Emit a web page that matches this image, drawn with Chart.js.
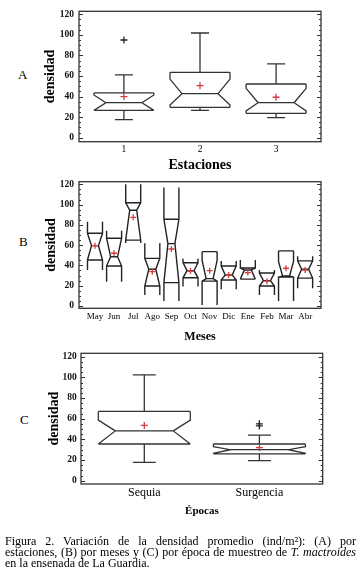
<!DOCTYPE html>
<html lang="es">
<head>
<meta charset="UTF-8">
<title>Densidad promedio de T. mactroides</title>
<script src="https://cdn.jsdelivr.net/npm/chart.js"></script>
<style>
  body { margin: 0; background: #fff; width: 362px; height: 570px; position: relative; overflow: hidden;
         font-family: "Liberation Serif", "Times New Roman", serif; color: #000; }
  canvas { position: absolute; left: 0; }
  .lbl { position: absolute; font-size: 13px; line-height: 15px; }
  .cap { position: absolute; left: 5px; top: 535.5px; width: 351px; font-size: 12px; line-height: 11px; }
  .cap div { text-align: justify; text-align-last: justify; white-space: nowrap; }
  .cap div.last { text-align-last: left; }
</style>
</head>
<body>
<span class="lbl" style="left:18px; top:67px">A</span>
<span class="lbl" style="left:19px; top:234px">B</span>
<span class="lbl" style="left:20px; top:412px">C</span>
<canvas id="chartA" width="362" height="176" style="top:0"></canvas>
<canvas id="chartB" width="362" height="178" style="top:170px"></canvas>
<canvas id="chartC" width="362" height="183" style="top:340px"></canvas>
<div class="cap">
  <div>Figura 2. Variación de la densidad promedio (ind/m²): (A) por</div>
  <div>estaciones, (B) por meses y (C) por época de muestreo de <i>T. mactroides</i></div>
  <div class="last">en la ensenada de La Guardia.</div>
</div>

<script>
// values (densidad, ind/m2)
const yTicks = [0, 20, 40, 60, 80, 100, 120];

// A: por estaciones
const estaciones = ['1', '2', '3'];
const estQ1 = [26.6, 29.5, 23.7];
const estMed = [34, 42.8, 34];
const estQ3 = [43.5, 63.6, 52.2];
const estNotchLo = [26.6, 31.8, 26];
const estNotchHi = [41.5, 57, 48];
const estWhiskLo = [17.5, 26.6, 19.5];
const estWhiskHi = [61, 101.8, 71.7];
const estMean = [40, 50.6, 39.3];
const estOut = [[95], [], []];

// B: por meses
const meses = ['May', 'Jun', 'Jul', 'Ago', 'Sep', 'Oct', 'Nov', 'Dic', 'Ene', 'Feb', 'Mar', 'Abr'];
const mesQ1 = [45.4, 39.4, 65, 19.7, 23, 27.8, 24.5, 25.6, 26.5, 19.7, 28.5, 27.5];
const mesMed = [59.5, 48.6, 94.5, 36.2, 61.5, 34.8, 27, 30.6, 35.5, 25, 29.5, 36.2];
const mesQ3 = [71.7, 66.8, 101.8, 47, 85.5, 42.7, 53.6, 39.4, 37.5, 32.5, 54.4, 44.5];
const mesNotchLo = [35.5, 24, 62, 10.8, 5, 19.3, 1, 16.4, 26.5, 10.8, 5, 17.5];
const mesNotchHi = [83, 74.3, 120, 61.8, 117, 46.5, 45, 44.4, 45.4, 35.5, 44, 49];
const mesMean = [59.5, 52, 87.5, 33.8, 56.2, 34.6, 34.8, 30.6, 32.9, 24.5, 37.2, 35.5];

// C: por época
const epocas = ['Sequia', 'Surgencia'];
const epQ1 = [35.5, 26];
const epMed = [48.2, 30];
const epQ3 = [67, 35.5];
const epNotchLo = [35.5, 26.5];
const epNotchHi = [58.7, 33];
const epWhiskLo = [17.8, 19.4];
const epWhiskHi = [102.4, 44.2];
const epMean = [53.5, 32];
const epOut = [[], [53, 55]];

Chart.defaults.font.family = '"Liberation Serif", "Times New Roman", serif';
Chart.defaults.color = '#111';

// notched box outlines + framed axes with inner ticks
const notchedBoxes = {
  id: 'notchedBoxes',
  beforeDatasetsDraw(chart, args, o) {
    const {ctx, chartArea: a, scales: {x, y}} = chart;
    const py = v => y.getPixelForValue(v);
    ctx.save();
    ctx.beginPath();
    ctx.rect(a.left, a.top, a.width, a.height);
    ctx.clip();
    ctx.strokeStyle = o.color;
    ctx.lineWidth = o.lineWidth;
    o.med.forEach((m, i) => {
      const cx = x.getPixelForValue(i + 1);
      const hw = o.halfWidth, inn = hw - o.indent;
      const q1 = o.q1[i], q3 = o.q3[i], lo = o.nLo[i], hi = o.nHi[i];
      ctx.beginPath();
      [-1, 1].forEach(s => {
        ctx.moveTo(cx + s * hw, py(Math.max(q3, hi)));
        ctx.lineTo(cx + s * hw, py(Math.min(q3, hi)));
        ctx.lineTo(cx + s * inn, py(m));
        ctx.lineTo(cx + s * hw, py(Math.max(q1, lo)));
        ctx.lineTo(cx + s * hw, py(Math.min(q1, lo)));
      });
      ctx.moveTo(cx - hw, py(q3)); ctx.lineTo(cx + hw, py(q3));
      ctx.moveTo(cx - hw, py(q1)); ctx.lineTo(cx + hw, py(q1));
      ctx.moveTo(cx - inn, py(m)); ctx.lineTo(cx + inn, py(m));
      if (o.wLo) {
        ctx.moveTo(cx, py(q3)); ctx.lineTo(cx, py(o.wHi[i]));
        ctx.moveTo(cx - o.cap, py(o.wHi[i])); ctx.lineTo(cx + o.cap, py(o.wHi[i]));
        ctx.moveTo(cx, py(q1)); ctx.lineTo(cx, py(o.wLo[i]));
        ctx.moveTo(cx - o.cap, py(o.wLo[i])); ctx.lineTo(cx + o.cap, py(o.wLo[i]));
      }
      ctx.stroke();
    });
    ctx.restore();
  },
  afterDraw(chart, args, o) {
    const {ctx, chartArea: a, scales: {y}} = chart;
    ctx.save();
    ctx.strokeStyle = '#333';
    ctx.lineWidth = 1.3;
    ctx.strokeRect(a.left, a.top, a.width, a.height);
    ctx.lineWidth = 1;
    ctx.beginPath();
    for (let v = 0; v <= 120; v += 5) {
      const len = v % 20 === 0 ? 4 : 2;
      const p = Math.round(y.getPixelForValue(v)) + 0.5;
      ctx.moveTo(a.left, p); ctx.lineTo(a.left + len, p);
      ctx.moveTo(a.right, p); ctx.lineTo(a.right - len, p);
    }
    ctx.stroke();
    ctx.restore();
  }
};

function makeChart(id, p) {
  const datasets = [{
    data: p.mean.map((v, i) => ({x: i + 1, y: v})),
    pointStyle: 'cross', pointRadius: p.markR, borderColor: '#d43b3b', borderWidth: 1.3
  }];
  if (p.out) {
    datasets.push({
      data: p.out.flatMap((list, i) => list.map(v => ({x: i + 1, y: v}))),
      pointStyle: 'cross', pointRadius: p.markR, borderColor: '#222', borderWidth: 1.3
    });
  }
  return new Chart(document.getElementById(id), {
    type: 'scatter',
    data: { datasets },
    options: {
      responsive: false, animation: false, events: [], devicePixelRatio: 1,
      layout: { padding: p.pad },
      plugins: { legend: { display: false }, tooltip: { enabled: false }, notchedBoxes: p.box },
      scales: {
        x: {
          type: 'linear', min: p.xmin, max: p.xmax,
          afterBuildTicks: s => { s.ticks = p.cats.map((c, i) => ({ value: i + 1 })); },
          ticks: { callback: v => p.cats[v - 1], font: p.xFont, color: '#000', padding: p.xPad,
                   maxRotation: 0, autoSkip: false },
          grid: { display: false, drawTicks: false }, border: { display: false },
          title: { display: true, text: p.xTitle, font: p.xTitleFont, color: '#000', padding: 0 },
          afterFit: s => { s.height = p.xHeight; }
        },
        y: {
          min: p.ymin, max: p.ymax,
          afterBuildTicks: s => { s.ticks = yTicks.map(v => ({ value: v })); },
          ticks: { font: { size: 9.5, weight: 'bold' }, color: '#111', padding: p.yPad },
          grid: { display: false, drawTicks: false }, border: { display: false },
          title: { display: true, text: 'densidad', font: { size: 14, weight: 'bold' }, color: '#000', padding: 0 },
          afterFit: s => { s.width = p.yWidth; }
        }
      }
    },
    plugins: [notchedBoxes]
  });
}

makeChart('chartA', {
  cats: estaciones, mean: estMean, out: estOut, markR: 3.5,
  xmin: 0.41, xmax: 3.59, ymin: -3.9, ymax: 122.9,
  pad: { left: 41.6, right: 41, top: 11.3, bottom: 2.6 },
  xHeight: 31.7, yWidth: 37.4, xPad: 2.3, yPad: 5,
  xFont: { size: 9.5 }, xTitle: 'Estaciones', xTitleFont: { size: 14, weight: 'bold' },
  box: { q1: estQ1, med: estMed, q3: estQ3, nLo: estNotchLo, nHi: estNotchHi,
         wLo: estWhiskLo, wHi: estWhiskHi, halfWidth: 30, indent: 12, cap: 9,
         color: '#333', lineWidth: 1.3 }
});

makeChart('chartB', {
  cats: meses, mean: mesMean, out: null, markR: 3,
  xmin: 0.163, xmax: 12.83, ymin: -2.3, ymax: 122.6,
  pad: { left: 43.3, right: 41, top: 11.7, bottom: 4.1 },
  xHeight: 35.6, yWidth: 35.7, xPad: 3, yPad: 5,
  xFont: { size: 9 }, xTitle: 'Meses', xTitleFont: { size: 12, weight: 'bold' },
  box: { q1: mesQ1, med: mesMed, q3: mesQ3, nLo: mesNotchLo, nHi: mesNotchHi,
         wLo: null, wHi: null, halfWidth: 7.5, indent: 4, cap: 0,
         color: '#222', lineWidth: 1.4 }
});

makeChart('chartC', {
  cats: epocas, mean: epMean, out: epOut, markR: 3.5,
  xmin: 0.45, xmax: 2.55, ymin: -3.2, ymax: 123.3,
  pad: { left: 45.6, right: 39.3, top: 13.3, bottom: 5.4 },
  xHeight: 33.6, yWidth: 35.4, xPad: 2, yPad: 4.3,
  xFont: { size: 12 }, xTitle: 'Épocas', xTitleFont: { size: 11, weight: 'bold' },
  box: { q1: epQ1, med: epMed, q3: epQ3, nLo: epNotchLo, nHi: epNotchHi,
         wLo: epWhiskLo, wHi: epWhiskHi, halfWidth: 46, indent: 17, cap: 11.5,
         color: '#333', lineWidth: 1.3 }
});
</script>
</body>
</html>
